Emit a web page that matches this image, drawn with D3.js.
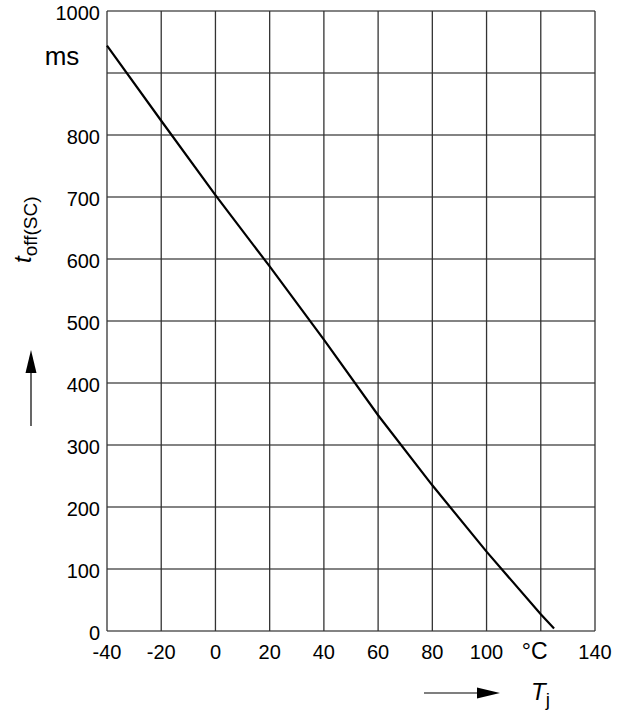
<!DOCTYPE html>
<html>
<head>
<meta charset="utf-8">
<script src="https://cdn.jsdelivr.net/npm/d3@7"></script>
<style>
  html, body { margin: 0; padding: 0; background: #fff; }
  svg { display: block; font-family: Arial, "Liberation Sans", Helvetica, sans-serif; }
</style>
</head>
<body>
<svg id="chart" width="626" height="711"></svg>
<script>
// ---- data ----
const temps = [-40, -20, 0, 20, 40, 60, 80, 100, 120, 124.9];   // Tj in °C
const toff  = [944, 823, 703, 588, 470, 348, 235, 128, 27, 4];  // toff(SC) in ms

const xTickValues = [-40, -20, 0, 20, 40, 60, 80, 100, 120, 140];
const xTickLabels = ["-40", "-20", "0", "20", "40", "60", "80", "100", "°C", "140"];
const yTickValues = [0, 100, 200, 300, 400, 500, 600, 700, 800, 900, 1000];
const yTickLabels = ["0", "100", "200", "300", "400", "500", "600", "700", "800", "", "1000"];
const xGrid = [-40, -20, 0, 20, 40, 60, 80, 100, 120, 140];
const yGrid = [0, 100, 200, 300, 400, 500, 600, 700, 800, 900, 1000];

const svg = d3.select("#chart");
const pLeft = 107, pRight = 595, pTop = 11, pBottom = 631;

const x = d3.scaleLinear().domain([-40, 140]).range([pLeft, pRight]);
const y = d3.scaleLinear().domain([0, 1000]).range([pBottom, pTop]);

// grid
const g = svg.append("g");
g.selectAll("line.h").data(yGrid).enter().append("line")
  .attr("x1", pLeft).attr("x2", pRight)
  .attr("y1", d => y(d)).attr("y2", d => y(d))
  .attr("stroke", "#5a5a5a").attr("stroke-width", 1.6);
g.selectAll("line.v").data(xGrid).enter().append("line")
  .attr("y1", pTop).attr("y2", pBottom)
  .attr("x1", d => x(d)).attr("x2", d => x(d))
  .attr("stroke", "#333").attr("stroke-width", 1.3);

// y tick labels
svg.append("g").selectAll("text").data(yTickValues).enter().append("text")
  .attr("x", pLeft - 7).attr("y", d => y(d)).attr("dy", "0.44em")
  .attr("text-anchor", "end").attr("font-size", 20).attr("fill", "#000")
  .text((d, i) => yTickLabels[i]);

// unit "ms"
svg.append("text").attr("x", 62).attr("y", 65).attr("text-anchor", "middle")
  .attr("font-size", 26).text("ms");

// x tick labels
svg.append("g").selectAll("text").data(xTickValues).enter().append("text")
  .attr("x", (d, i) => x(d) + (xTickLabels[i] === "°C" ? -6 : 0))
  .attr("y", 659)
  .attr("text-anchor", "middle")
  .attr("font-size", (d, i) => xTickLabels[i] === "°C" ? 23 : 20)
  .text((d, i) => xTickLabels[i]);

// curve
const line = d3.line().x(d => x(d[0])).y(d => y(d[1]));
svg.append("path")
  .datum(temps.map((t, i) => [t, toff[i]]))
  .attr("d", line).attr("fill", "none")
  .attr("stroke", "#000").attr("stroke-width", 2.2);

// y axis title
const yt = svg.append("text")
  .attr("transform", "translate(31,263) rotate(-90)")
  .attr("font-size", 24);
yt.append("tspan").attr("font-style", "italic").text("t");
yt.append("tspan").attr("font-size", 19).attr("dy", 6).text("off(SC)");

// y arrow
svg.append("line").attr("x1", 31).attr("x2", 31).attr("y1", 426).attr("y2", 370)
  .attr("stroke", "#000").attr("stroke-width", 1.2);
svg.append("path").attr("d", "M31,350 L25.5,373 L36.5,373 Z").attr("fill", "#000");

// x arrow
svg.append("line").attr("x1", 424).attr("x2", 480).attr("y1", 693).attr("y2", 693)
  .attr("stroke", "#000").attr("stroke-width", 1.2);
svg.append("path").attr("d", "M500,693 L477,687.5 L477,698.5 Z").attr("fill", "#000");

// x axis title
const xt = svg.append("text").attr("x", 531).attr("y", 700).attr("font-size", 24);
xt.append("tspan").attr("font-style", "italic").text("T");
xt.append("tspan").attr("font-size", 19).attr("dy", 6).text("j");
</script>
</body>
</html>
